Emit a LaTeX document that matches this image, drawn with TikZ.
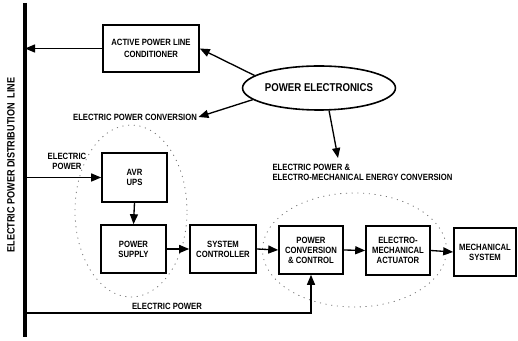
\documentclass[tikz,border=0pt]{standalone}
\usepackage{fontspec}
\setmainfont{Liberation Sans}[FakeStretch=0.85]
\usetikzlibrary{arrows.meta,shapes.geometric}
\newcommand{\smallf}{\bfseries\fontsize{6.8}{7.5}\selectfont}
\newcommand{\bigf}{\bfseries\fontsize{8}{9}\selectfont}
\newcommand{\pef}{\bfseries\fontsize{8.5}{10}\selectfont}
\begin{document}
\begin{tikzpicture}[x=0.75pt,y=-0.75pt,
  box/.style={draw, line width=1.2pt, align=center, font=\smallf, inner sep=0pt},
  arr/.style={-{Triangle[length=7.5pt,width=6pt]}, line width=1pt},
  lbl/.style={font=\smallf, align=center, inner sep=1pt},
  dots/.style={draw=black!55, line width=0.6pt, dash pattern=on 0.8pt off 3.5pt}]
\useasboundingbox (0,0) rectangle (518,341);
% distribution line
\coordinate (ltop) at (25,3);
\coordinate (lbot) at (25,337);
\draw[line width=2.3pt] (ltop) -- (lbot);
\node[rotate=90, font=\bigf, inner sep=0pt] (dist) at (11,165) {ELECTRIC POWER DISTRIBUTION\ \ LINE};
% boxes
\node[box, minimum width=72pt, minimum height=35.25pt, font=\bfseries\fontsize{6.8}{9}\selectfont] (aplc) at (151,48.5) {ACTIVE POWER LINE\\CONDITIONER};
\node[box, minimum width=48.75pt, minimum height=36.75pt] (avr) at (134.5,177.5) {AVR\\UPS};
\node[box, minimum width=48.75pt, minimum height=36pt] (ps) at (133.5,249) {POWER\\SUPPLY};
\node[box, minimum width=49.5pt, minimum height=36pt] (sc) at (223,249) {SYSTEM\\CONTROLLER};
\node[box, minimum width=48pt, minimum height=36pt] (pcc) at (311,250) {POWER\\CONVERSION\\\& CONTROL};
\node[box, minimum width=48pt, minimum height=36.75pt] (ema) at (398,250.5) {ELECTRO-\\MECHANICAL\\ACTUATOR};
\node[box, minimum width=46.5pt, minimum height=36pt] (ms) at (485,252) {MECHANICAL\\SYSTEM};
% power electronics
\node[draw, ellipse, line width=1.2pt, minimum width=111pt, minimum height=33pt, inner sep=0pt, font=\pef] (pe) at (319,88) {POWER ELECTRONICS};
% text labels
\node[lbl] (epc) at (135,117) {ELECTRIC POWER CONVERSION};
\node[lbl, anchor=north west, align=left] (epem) at (271,163) {ELECTRIC POWER \&\\ELECTRO-MECHANICAL ENERGY CONVERSION};
\coordinate (t3) at (338,158);
\node[lbl] (ep1) at (67,161) {ELECTRIC\\POWER};
\node[lbl] (ep2) at (167,306) {ELECTRIC POWER};
% dotted groupings
\draw[dots] (131,211) ellipse [x radius=42pt, y radius=64.5pt];
\draw[dots] (354.5,250) ellipse [x radius=69pt, y radius=42.75pt];
% connectors
\draw[arr] (aplc.west) -- (ltop |- aplc.west);
\draw[arr] (pe.169) -- (aplc.east);
\draw[arr] (pe.190) -- (epc.east);
\draw[arr] (pe.294) -- (t3);
\draw[arr] (ltop |- avr.west) -- (avr.west);
\draw[arr] (avr.south) -- (ps.north);
\draw[arr] (ps.east) -- (sc.west);
\draw[arr] (sc.east) -- (pcc.west);
\draw[arr] (pcc.east) -- (ema.west);
\draw[arr] (ema.east) -- (ms.west);
\coordinate (fb) at (25,313);
\draw[arr] (fb) -| (pcc.south);
\end{tikzpicture}
\end{document}
